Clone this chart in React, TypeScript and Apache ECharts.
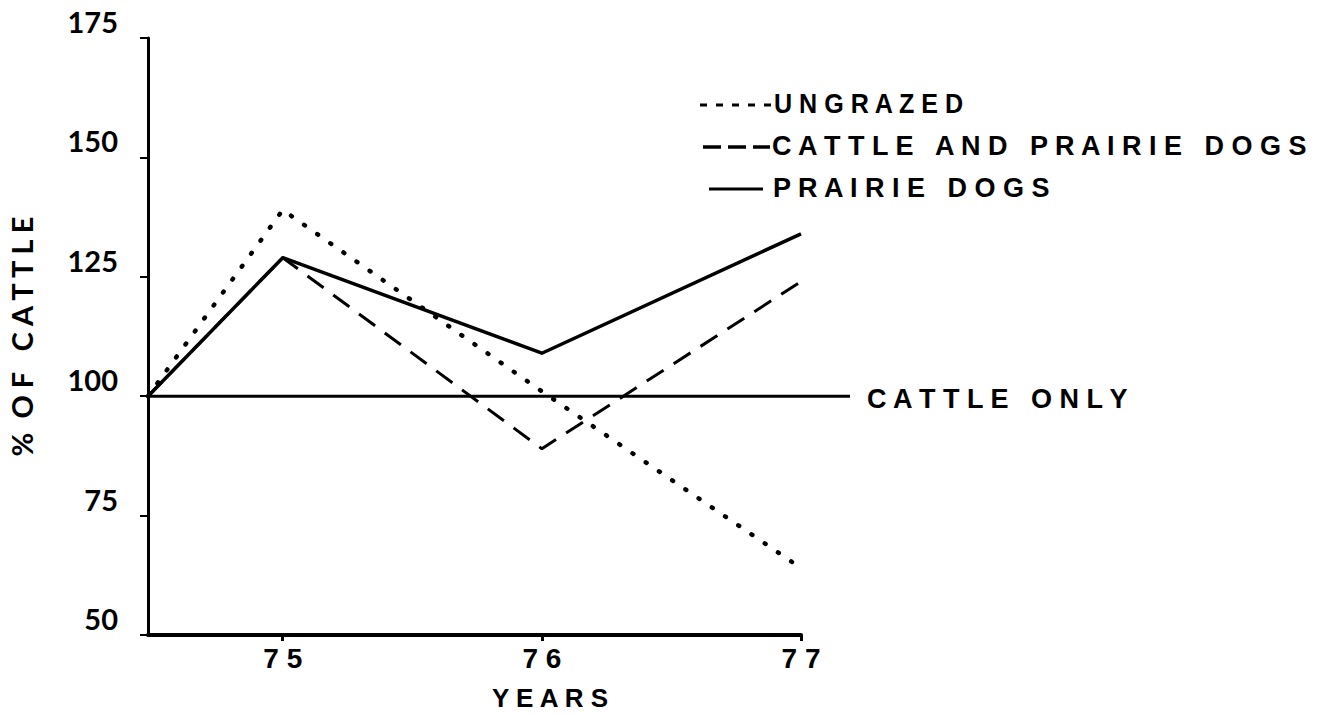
import React, { useEffect, useRef } from "react";
import * as echarts from "echarts";

const years = [74.48, 75, 76, 77];
const tickYears = [75, 76, 77];
const ungrazed = [100, 139, 101, 64];
const cattleAndDogs = [100, 129, 89, 124];
const prairieDogs = [100, 129, 109, 134];
const cattleOnlyX = [74.48, 77.19];
const cattleOnly = [100, 100];

const sans = "'Liberation Sans', Arial, sans-serif";
const geo = "Lato, 'Liberation Sans', sans-serif";

const spaced = (s: string) => s.split("").join(" ");

export default function App() {
  const ref = useRef<HTMLDivElement>(null);
  useEffect(() => {
    const chart = echarts.init(ref.current!, null, { renderer: "svg" });
    const zip = (xs: number[], ys: number[]) => xs.map((x, i) => [x, ys[i]]);
    const legendFont = `bold 27px ${sans}`;
    chart.setOption({
      animation: false,
      backgroundColor: "#ffffff",
      grid: [
        { left: 148, right: 522, top: 38, bottom: 79, containLabel: false },
        { left: 148, right: 473, top: 38, bottom: 79, containLabel: false },
      ],
      xAxis: [
        {
          type: "value",
          gridIndex: 0,
          min: 74.48,
          max: 77,
          axisLine: { show: true, lineStyle: { color: "#000", width: 4 } },
          axisTick: { show: true, customValues: tickYears, length: 6, lineStyle: { color: "#000", width: 3 } },
          axisLabel: {
            customValues: tickYears,
            formatter: (v: number) => spaced(String(v)),
            fontFamily: sans,
            fontWeight: "bold",
            fontSize: 28,
            color: "#000",
            margin: 9,
          },
          splitLine: { show: false },
        },
        {
          type: "value",
          gridIndex: 1,
          min: 74.48,
          max: 77.19,
          show: false,
        },
      ],
      yAxis: [
        {
          type: "value",
          gridIndex: 0,
          min: 50,
          max: 175,
          interval: 25,
          name: "%  O F   C A T T L E",
          nameLocation: "middle",
          nameRotate: 90,
          nameGap: 112,
          nameTextStyle: { fontFamily: geo, fontWeight: "bold", fontSize: 29, color: "#000" },
          axisLine: { show: true, lineStyle: { color: "#000", width: 3 } },
          axisTick: { show: true, length: 8, lineStyle: { color: "#000", width: 2 } },
          axisLabel: {
            fontFamily: geo,
            fontWeight: "bold",
            fontSize: 29,
            color: "#000",
            margin: 30,
            verticalAlign: "bottom",
            padding: [0, 0, 2, 0],
          },
          splitLine: { show: false },
        },
        {
          type: "value",
          gridIndex: 1,
          min: 50,
          max: 175,
          interval: 25,
          show: false,
        },
      ],
      series: [
        {
          name: "CATTLE ONLY",
          type: "line",
          xAxisIndex: 1,
          yAxisIndex: 1,
          data: zip(cattleOnlyX, cattleOnly),
          symbol: "none",
          lineStyle: { color: "#000", width: 3 },
        },
        {
          name: "UNGRAZED",
          type: "line",
          data: zip(years, ungrazed),
          symbol: "none",
          lineStyle: { color: "#000", width: 4.5, type: [1, 15], cap: "round" },
        },
        {
          name: "CATTLE AND PRAIRIE DOGS",
          type: "line",
          data: zip(years, cattleAndDogs),
          symbol: "none",
          lineStyle: { color: "#000", width: 3, type: [20, 12] },
        },
        {
          name: "PRAIRIE DOGS",
          type: "line",
          data: zip(years, prairieDogs),
          symbol: "none",
          lineStyle: { color: "#000", width: 3.5, join: "round" },
        },
      ],
      graphic: [
        { type: "line", shape: { x1: 700, y1: 105, x2: 772, y2: 105 }, style: { stroke: "#000", lineWidth: 3, lineDash: [7, 9] } },
        { type: "text", x: 774, y: 104, scaleX: 0.93, style: { text: spaced("UNGRAZED"), font: legendFont, fill: "#000", verticalAlign: "middle" } },
        { type: "line", shape: { x1: 703, y1: 147, x2: 770, y2: 147 }, style: { stroke: "#000", lineWidth: 3.5, lineDash: [18, 7] } },
        { type: "text", x: 772, y: 146, style: { text: "C A T T L E   A N D   P R A I R I E   D O G S", font: legendFont, fill: "#000", verticalAlign: "middle" } },
        { type: "line", shape: { x1: 709, y1: 189, x2: 763, y2: 189 }, style: { stroke: "#000", lineWidth: 3 } },
        { type: "text", x: 773, y: 188, style: { text: "P R A I R I E   D O G S", font: legendFont, fill: "#000", verticalAlign: "middle" } },
        { type: "text", x: 867, y: 399, style: { text: "C A T T L E   O N L Y", font: legendFont, fill: "#000", verticalAlign: "middle" } },
        { type: "text", x: 550, y: 698, style: { text: spaced("YEARS"), font: `bold 26px ${sans}`, fill: "#000", align: "center", verticalAlign: "middle" } },
      ],
    });
    return () => chart.dispose();
  }, []);
  return <div ref={ref} style={{ position: "fixed", left: 0, top: 0, width: 1323, height: 714 }} />;
}
